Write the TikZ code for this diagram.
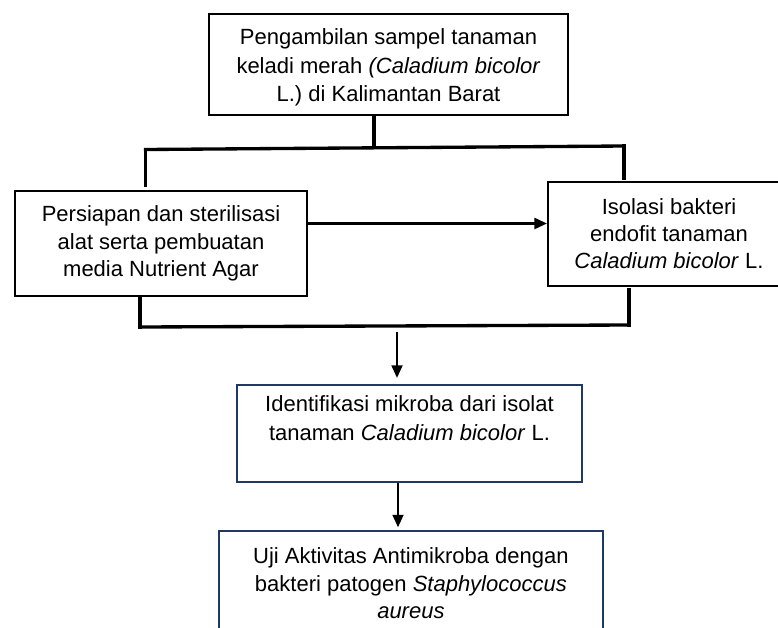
\documentclass[tikz,border=0pt]{standalone}
\usepackage{fontspec}
\setmainfont{Liberation Sans}
\usetikzlibrary{arrows.meta}
\definecolor{navy}{HTML}{1F3864}
\begin{document}
\begin{tikzpicture}[x=0.75pt,y=-0.75pt,
  box/.style={draw=black,line width=1.3pt,inner sep=0pt,align=center,
    font=\fontsize{16.5}{20.5}\selectfont},
  bluebox/.style={box,draw=navy},
  txt/.style={inner sep=0pt,align=center,font=\fontsize{16.5}{21.5}\selectfont},
  conn/.style={line width=2.5pt,line cap=rect},
  arr/.style={line width=2pt,-{Triangle[length=9.5pt,width=8pt]}}]
\useasboundingbox (0,0) rectangle (778,628);
\clip (0,0) rectangle (778,628);
\fill[white] (0,0) rectangle (778,628);

\node[box,minimum width=269.25pt,minimum height=75.75pt] (top) at (388.5,64.5) {};
\node[txt] (toptext) at (388.5,67.5)
  {Pengambilan sampel tanaman\\keladi merah \textit{(Caladium bicolor}\\L.) di Kalimantan Barat};
\node[box,minimum width=219pt,minimum height=79.1pt] (left) at (161,243.4)
  {Persiapan dan sterilisasi\\alat serta pembuatan\\media Nutrient Agar};
\node[box,minimum width=181.5pt,minimum height=78pt] (right) at (669,233.7)
  {Isolasi bakteri\\endofit tanaman\\\textit{Caladium bicolor} L.};
\node[bluebox,minimum width=259.2pt,minimum height=72.75pt] (ident) at (409.5,433.4) {};
\node[txt] (identtext) at (409.5,418)
  {Identifikasi mikroba dari isolat\\tanaman \textit{Caladium bicolor} L.};
\node[bluebox,minimum width=287.8pt,minimum height=78.75pt] (test) at (410.9,583.2)
  {Uji Aktivitas Antimikroba dengan\\bakteri patogen \textit{Staphylococcus}\\\textit{aureus}};

% upper fork
\coordinate (jc) at (374,147.5);
\coordinate (hl) at (145.5,149.5);
\coordinate (hr) at (624,146);
\coordinate (lt) at (145.5,185);
\coordinate (rt) at (624,178);
\draw[conn] (top.south -| jc) -- (jc);
\draw[conn] (hl) -- (hr);
\draw[conn] (hl) -- (lt);
\draw[conn] (hr) -- (rt);

% left to right arrow
\coordinate (ay) at (0,223.5);
\draw[line width=2.3pt,-{Triangle[length=9.5pt,width=8pt]}] (left.east |- ay) -- (right.west |- ay);

% lower join
\coordinate (bl) at (140,327);
\coordinate (br) at (629,325);
\coordinate (rb) at (629,290);
\draw[conn] (left.south -| bl) -- (bl);
\draw[conn] (bl) -- (br);
\draw[conn] (rb) -- (br);

% down arrows
\coordinate (da) at (397,332);
\draw[arr,shorten >=4.5pt] (da) -- (ident.north -| da);
\coordinate (db) at (398,0);
\draw[arr,shorten >=1.8pt] (ident.south -| db) -- (test.north -| db);
\end{tikzpicture}
\end{document}
